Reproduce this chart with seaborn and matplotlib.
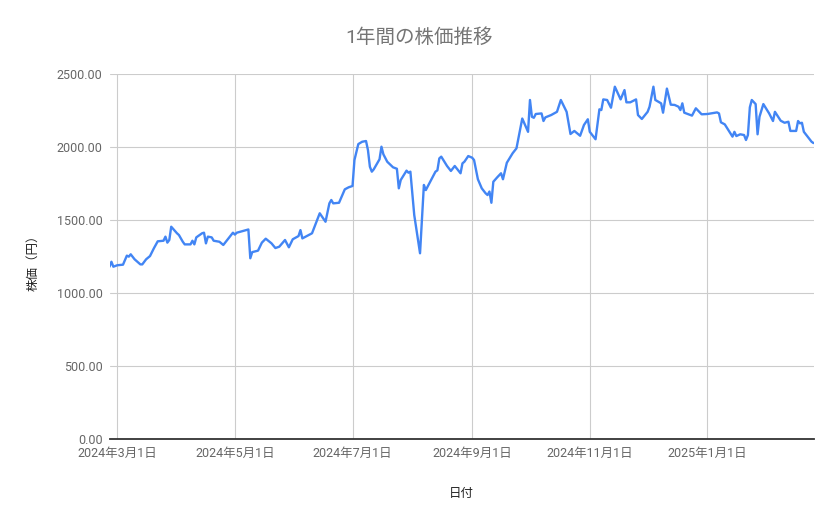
"""
1年間の株価推移 - line chart of daily closing prices
"""

import pandas as pd
import numpy as np
import matplotlib
matplotlib.use('Agg')
import matplotlib.pyplot as plt
import matplotlib.dates as mdates
from matplotlib.ticker import FuncFormatter
import seaborn as sns

# values
dates = [
    '2024-02-26', '2024-02-27', '2024-02-28', '2024-03-01', '2024-03-04', '2024-03-06',
    '2024-03-07', '2024-03-08', '2024-03-10', '2024-03-13', '2024-03-14', '2024-03-16',
    '2024-03-18', '2024-03-20', '2024-03-22', '2024-03-25', '2024-03-26', '2024-03-27',
    '2024-03-28', '2024-03-29', '2024-04-01', '2024-04-02', '2024-04-04', '2024-04-05',
    '2024-04-08', '2024-04-09', '2024-04-10', '2024-04-11', '2024-04-14', '2024-04-15',
    '2024-04-16', '2024-04-17', '2024-04-19', '2024-04-20', '2024-04-23', '2024-04-25',
    '2024-04-30', '2024-05-01', '2024-05-02', '2024-05-07', '2024-05-08', '2024-05-09',
    '2024-05-10', '2024-05-13', '2024-05-15', '2024-05-17', '2024-05-20', '2024-05-22',
    '2024-05-24', '2024-05-27', '2024-05-29', '2024-05-31', '2024-06-03', '2024-06-04',
    '2024-06-05', '2024-06-10', '2024-06-11', '2024-06-14', '2024-06-17', '2024-06-19',
    '2024-06-20', '2024-06-21', '2024-06-24', '2024-06-27', '2024-06-29', '2024-07-01',
    '2024-07-02', '2024-07-04', '2024-07-06', '2024-07-08', '2024-07-09', '2024-07-10',
    '2024-07-11', '2024-07-12', '2024-07-15', '2024-07-16', '2024-07-17', '2024-07-19',
    '2024-07-22', '2024-07-24', '2024-07-25', '2024-07-26', '2024-07-29', '2024-07-30',
    '2024-07-31', '2024-08-02', '2024-08-05', '2024-08-07', '2024-08-08', '2024-08-13',
    '2024-08-14', '2024-08-15', '2024-08-16', '2024-08-19', '2024-08-21', '2024-08-23',
    '2024-08-26', '2024-08-27', '2024-08-28', '2024-08-30', '2024-09-01', '2024-09-02',
    '2024-09-04', '2024-09-06', '2024-09-08', '2024-09-09', '2024-09-10', '2024-09-11',
    '2024-09-12', '2024-09-14', '2024-09-16', '2024-09-17', '2024-09-19', '2024-09-22',
    '2024-09-24', '2024-09-27', '2024-09-30', '2024-10-01', '2024-10-02', '2024-10-03',
    '2024-10-04', '2024-10-07', '2024-10-08', '2024-10-09', '2024-10-12', '2024-10-15',
    '2024-10-17', '2024-10-20', '2024-10-22', '2024-10-24', '2024-10-27', '2024-10-29',
    '2024-10-31', '2024-11-01', '2024-11-04', '2024-11-06', '2024-11-07', '2024-11-08',
    '2024-11-10', '2024-11-12', '2024-11-14', '2024-11-17', '2024-11-19', '2024-11-20',
    '2024-11-22', '2024-11-25', '2024-11-26', '2024-11-28', '2024-12-01', '2024-12-02',
    '2024-12-04', '2024-12-05', '2024-12-08', '2024-12-09', '2024-12-11', '2024-12-13',
    '2024-12-15', '2024-12-17', '2024-12-18', '2024-12-19', '2024-12-20', '2024-12-24',
    '2024-12-26', '2024-12-29', '2025-01-01', '2025-01-06', '2025-01-07', '2025-01-08',
    '2025-01-10', '2025-01-14', '2025-01-15', '2025-01-16', '2025-01-18', '2025-01-20',
    '2025-01-21', '2025-01-22', '2025-01-23', '2025-01-24', '2025-01-26', '2025-01-27',
    '2025-01-28', '2025-01-30', '2025-02-02', '2025-02-04', '2025-02-05', '2025-02-08',
    '2025-02-10', '2025-02-12', '2025-02-13', '2025-02-16', '2025-02-17', '2025-02-18',
    '2025-02-19', '2025-02-20', '2025-02-24', '2025-02-25',
]

prices = [
    1180, 1214, 1180, 1190, 1194, 1256,
    1249, 1265, 1231, 1196, 1196, 1231,
    1253, 1306, 1354, 1358, 1386, 1345,
    1363, 1454, 1409, 1397, 1351, 1333,
    1333, 1358, 1333, 1381, 1409, 1413,
    1340, 1386, 1381, 1358, 1351, 1329,
    1413, 1400, 1413, 1431, 1435, 1238,
    1280, 1290, 1345, 1372, 1340, 1308,
    1317, 1363, 1313, 1368, 1390, 1431,
    1374, 1409, 1443, 1546, 1488, 1614,
    1637, 1614, 1618, 1710, 1724, 1733,
    1911, 2020, 2036, 2041, 1979, 1865,
    1831, 1847, 1916, 2002, 1950, 1899,
    1861, 1851, 1717, 1774, 1838, 1824,
    1831, 1534, 1272, 1740, 1705, 1831,
    1840, 1922, 1934, 1870, 1836, 1870,
    1820, 1888, 1899, 1938, 1927, 1911,
    1779, 1717, 1683, 1671, 1695, 1618,
    1762, 1792, 1820, 1779, 1892, 1957,
    1991, 2195, 2104, 2322, 2207, 2200,
    2226, 2230, 2178, 2203, 2219, 2241,
    2322, 2241, 2089, 2110, 2077, 2151,
    2190, 2104, 2053, 2258, 2253, 2326,
    2322, 2269, 2413, 2326, 2390, 2306,
    2306, 2326, 2219, 2192, 2241, 2276,
    2413, 2322, 2299, 2235, 2400, 2290,
    2288, 2276, 2253, 2299, 2235, 2215,
    2265, 2224, 2226, 2237, 2230, 2169,
    2155, 2071, 2104, 2075, 2087, 2082,
    2048, 2082, 2272, 2322, 2294, 2087,
    2207, 2294, 2230, 2178, 2241, 2180,
    2166, 2173, 2110, 2110, 2178, 2162,
    2166, 2104, 2036, 2027,
]

tick_dates = ['2024-03-01', '2024-05-01', '2024-07-01', '2024-09-01', '2024-11-01', '2025-01-01']
tick_labels = ['2024年3月1日', '2024年5月1日', '2024年7月1日', '2024年9月1日', '2024年11月1日', '2025年1月1日']
y_ticks = [0, 500, 1000, 1500, 2000, 2500]

title = '1年間の株価推移'
x_title = '日付'
y_title = '株価（円）'

df = pd.DataFrame({'日付': pd.to_datetime(dates), '株価': prices})

sns.set_theme(style='white')
plt.rcParams['font.family'] = ['Roboto', 'Noto Sans CJK JP', 'DejaVu Sans']

fig = plt.figure(figsize=(8.39, 5.19), dpi=100)
ax = fig.add_axes([109.5 / 839, 80 / 519, 704 / 839, 365 / 519])

sns.lineplot(data=df, x='日付', y='株価', ax=ax, color='#4285F4', linewidth=1.7)

ax.set_xlim(df['日付'].min(), df['日付'].max())
ax.set_ylim(0, 2500)

ax.set_xticks(pd.to_datetime(tick_dates))
ax.set_xticklabels(tick_labels)
ax.set_yticks(y_ticks)
ax.yaxis.set_major_formatter(FuncFormatter(lambda v, p: f'{v:.2f}'))

ax.grid(True, color='#cccccc', linewidth=0.8)
ax.set_axisbelow(True)
for side in ['top', 'right', 'left']:
    ax.spines[side].set_visible(False)
ax.spines['bottom'].set_color('#333333')
ax.spines['bottom'].set_linewidth(1.3)
ax.spines['bottom'].set_zorder(3)

ax.tick_params(axis='both', length=0, labelsize=9, labelcolor='#666666')
ax.tick_params(axis='x', pad=6)
ax.tick_params(axis='y', pad=5)

ax.set_xlabel(x_title, fontsize=9, color='#222222')
ax.set_ylabel(y_title, fontsize=9, color='#222222')
ax.xaxis.set_label_coords(0.5, -0.131)
ax.yaxis.set_label_coords(-0.1, 0.49)

fig.text(0.5, 1 - 38 / 519, title, ha='center', va='center', fontsize=14, color='#757575')

fig.savefig('out.png', dpi=100)
